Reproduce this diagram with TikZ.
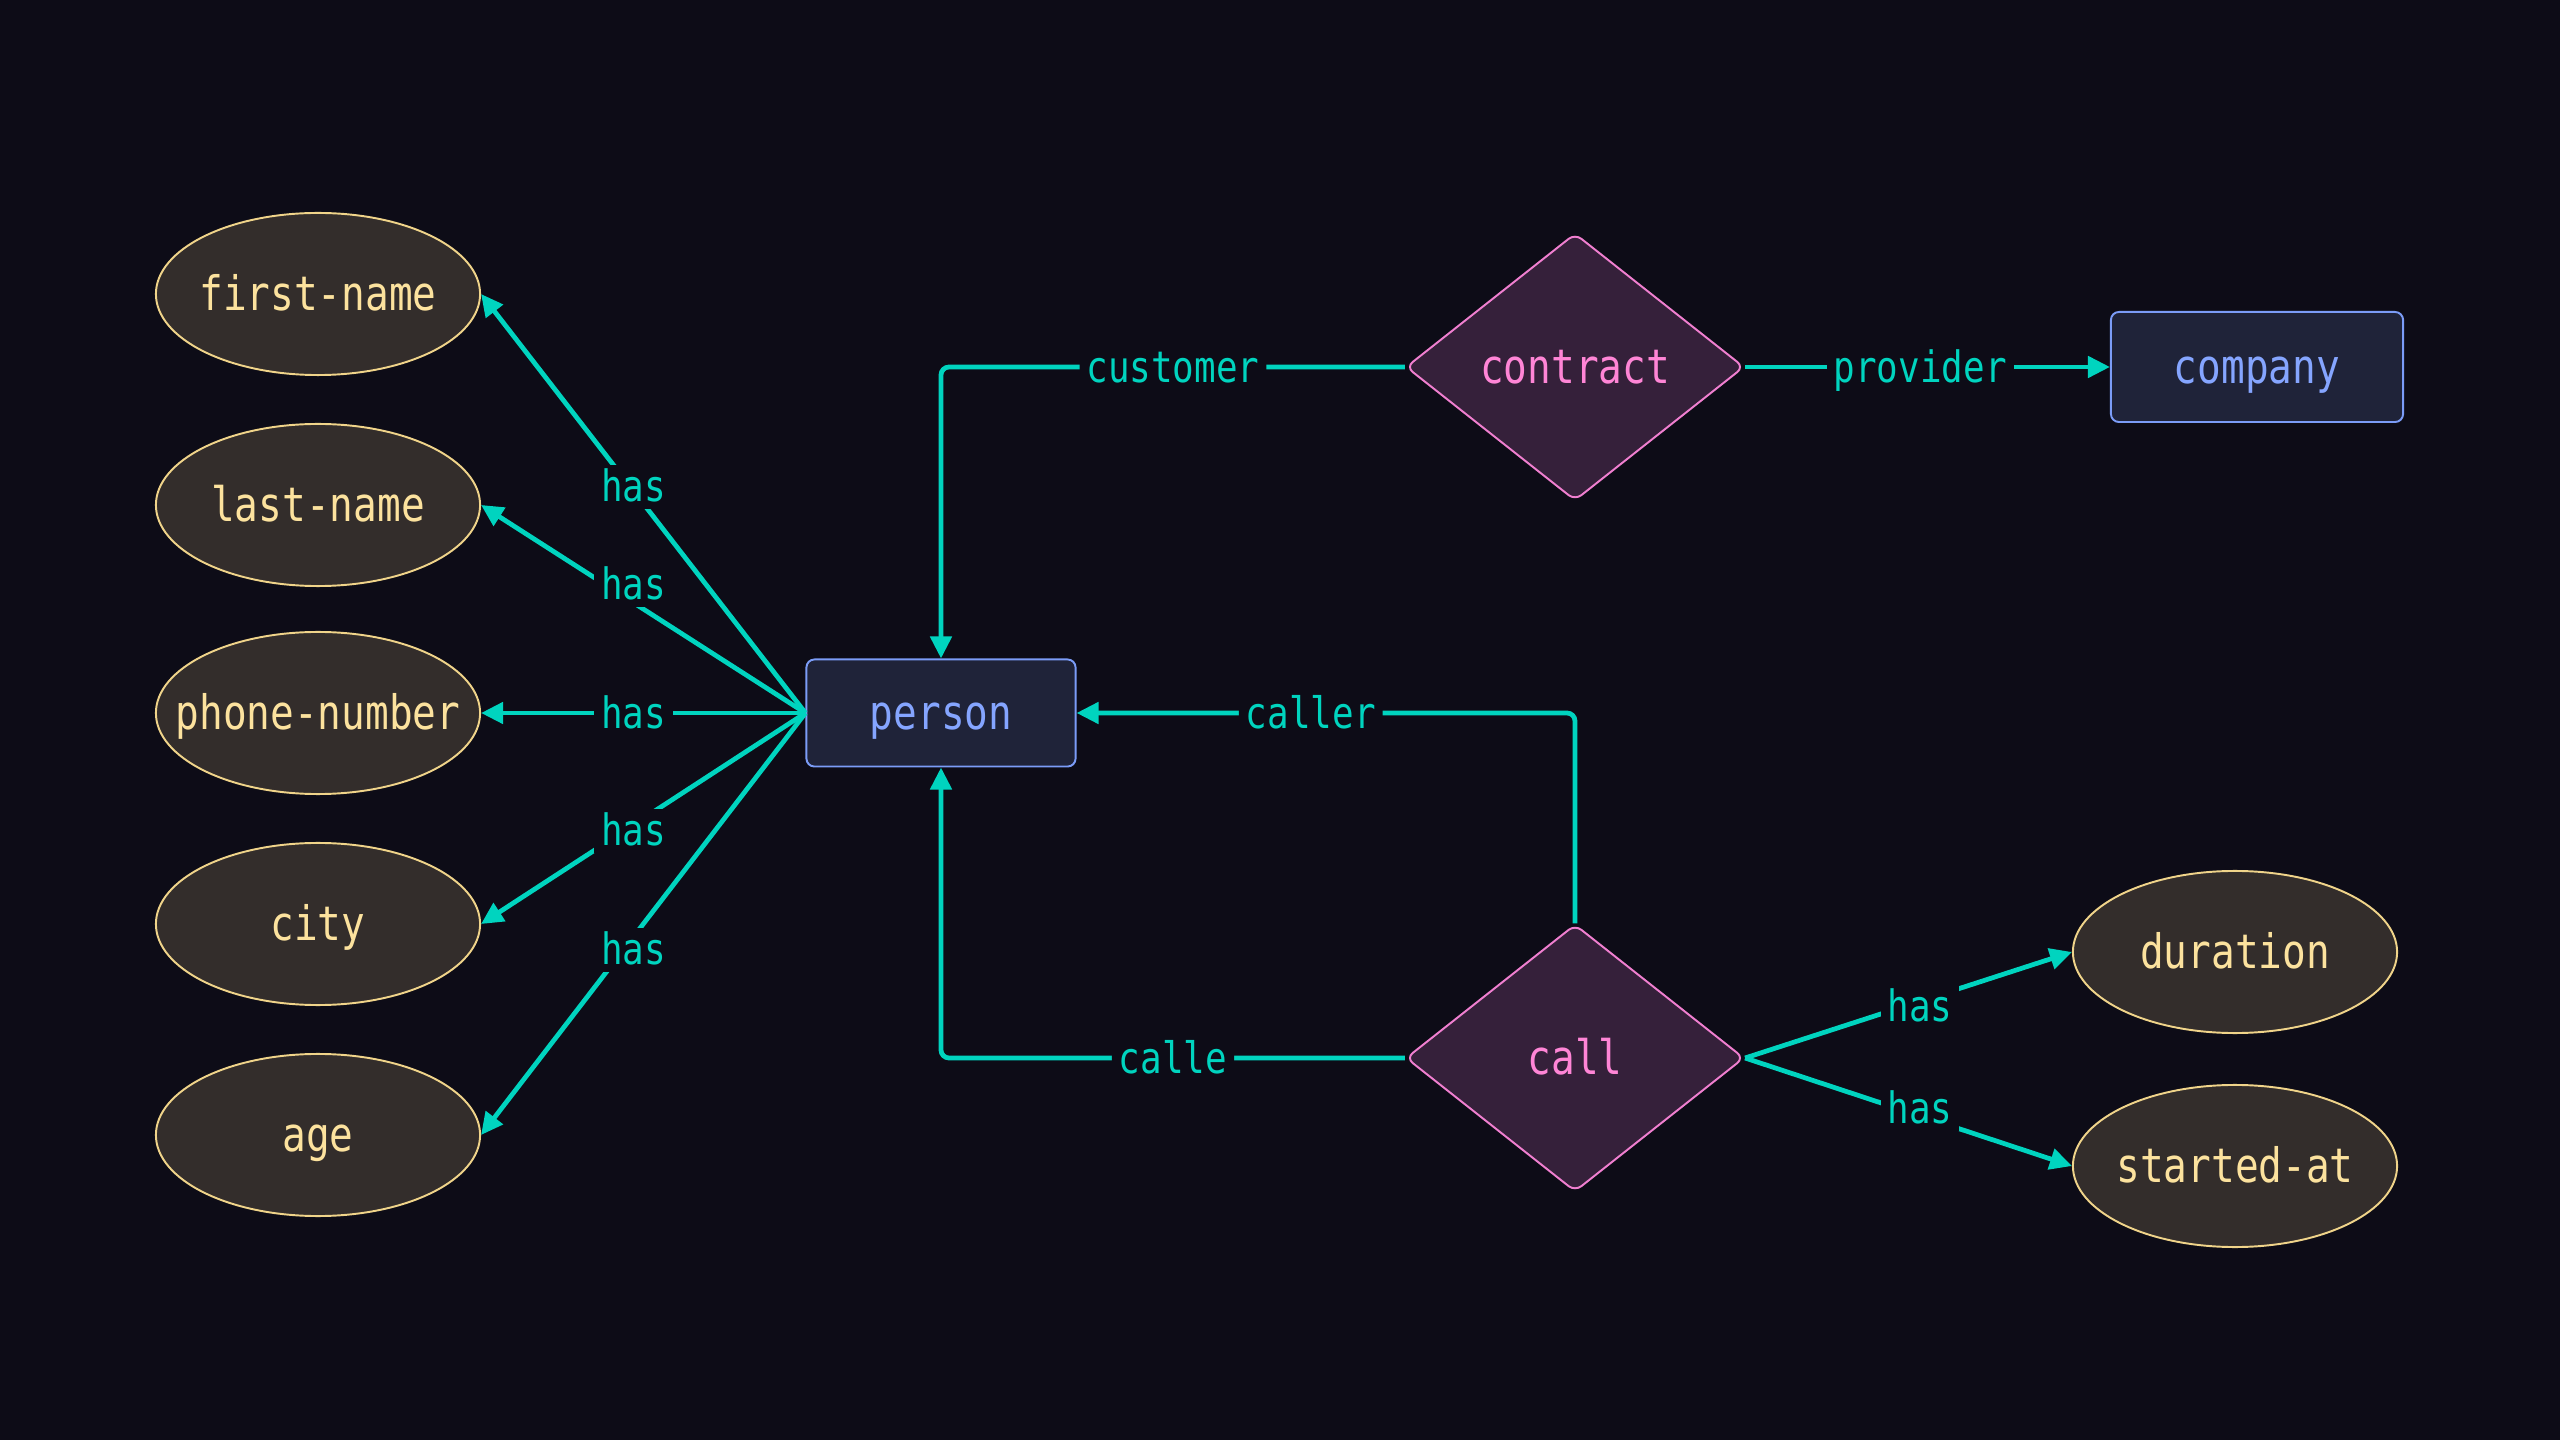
\documentclass[tikz,border=0pt]{standalone}
\usepackage{fontspec}
\usetikzlibrary{shapes.geometric,arrows.meta}
\newfontfamily\monof[FakeStretch=0.83]{DejaVu Sans Mono}
\definecolor{bgc}{HTML}{0D0C17}
\definecolor{edgec}{HTML}{00D4BF}
\definecolor{attrfill}{HTML}{332D2B}
\definecolor{attrdraw}{HTML}{F0D48A}
\definecolor{attrtext}{HTML}{FCE29E}
\definecolor{entfill}{HTML}{1F2339}
\definecolor{entdraw}{HTML}{7B9CF7}
\definecolor{enttext}{HTML}{85A5FF}
\definecolor{relfill}{HTML}{35203A}
\definecolor{reldraw}{HTML}{F07FD0}
\definecolor{reltext}{HTML}{FF85D6}
\newcommand{\zw}[1]{\makebox[0pt][c]{#1}}
\tikzset{
  txt/.style={text height=0.33cm, text depth=0pt},
  attr/.style={ellipse, draw=attrdraw, fill=attrfill, text=attrtext, line width=0.55pt,
    minimum width=3.24cm, minimum height=1.62cm, inner sep=0pt, txt,
    font=\monof\fontsize{13.5}{16}\selectfont},
  ent/.style={rectangle, rounded corners=0.08cm, draw=entdraw, fill=entfill, text=enttext, line width=0.55pt,
    inner sep=0pt, txt, font=\monof\fontsize{13.5}{16}\selectfont},
  rel/.style={diamond, rounded corners=0.08cm, draw=reldraw, fill=relfill, text=reltext, line width=0.55pt,
    minimum width=3.38cm, minimum height=2.67cm, inner sep=0pt, txt,
    font=\monof\fontsize{13.5}{16}\selectfont},
  conn/.style={draw=edgec, line width=1.35pt, -{Triangle[length=0.22cm,width=0.21cm]}},
  lbl/.style={fill=bgc, text=edgec, inner sep=0.07cm, text height=0.3cm, text depth=0pt,
    font=\monof\fontsize{12.3}{15}\selectfont}
}
\begin{document}
\begin{tikzpicture}[x=0.01cm,y=-0.01cm]
\fill[bgc] (0,0) rectangle (2560,1440);
\useasboundingbox (0,0) rectangle (2560,1440);

\node[attr] (fn) at (318,294) {\zw{first-name}};
\node[attr] (ln) at (318,505) {\zw{last-name}};
\node[attr] (ph) at (318,713) {\zw{phone-number}};
\node[attr] (ci) at (318,924) {\zw{city}};
\node[attr] (ag) at (318,1135) {\zw{age}};

\node[ent, minimum width=2.69cm, minimum height=1.07cm] (person) at (941,713) {person};
\node[ent, minimum width=2.92cm, minimum height=1.10cm] (company) at (2257,367) {company};

\node[rel] (contract) at (1575,367) {\zw{contract}};
\node[rel] (call) at (1575,1058) {\zw{call}};

\node[attr] (du) at (2235,952) {\zw{duration}};
\node[attr] (st) at (2235,1166) {\zw{started-at}};

\draw[conn] (person.west) -- node[lbl, pos=0.53, yshift=0.04cm] {has} (fn.east);
\draw[conn] (person.west) -- node[lbl, pos=0.53, yshift=0.18cm] {has} (ln.east);
\draw[conn] (person.west) -- node[lbl, pos=0.53] {has} (ph.east);
\draw[conn] (person.west) -- node[lbl, pos=0.53, yshift=-0.06cm] {has} (ci.east);
\draw[conn] (person.west) -- node[lbl, pos=0.53, yshift=-0.13cm] {has} (ag.east);

\draw[conn, rounded corners=0.08cm] (contract.west) -| node[lbl, pos=0.25] {customer} (person.north);
\draw[conn] (contract.east) -- node[lbl, pos=0.48] {provider} (company.west);
\draw[conn, rounded corners=0.08cm] (call.north) |- node[lbl, pos=0.765] {caller} (person.east);
\draw[conn, rounded corners=0.08cm] (call.west) -| node[lbl, pos=0.25] {calle} (person.south);

\draw[conn] (call.east) -- node[lbl, pos=0.535, yshift=-0.05cm] {has} (du.west);
\draw[conn] (call.east) -- node[lbl, pos=0.535, yshift=0.07cm] {has} (st.west);
\end{tikzpicture}
\end{document}
